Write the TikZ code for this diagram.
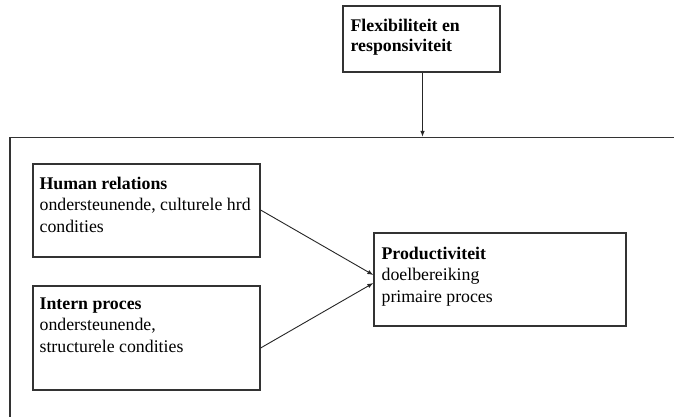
\documentclass[tikz,border=0pt]{standalone}
\usepackage{fontspec}
\setmainfont{Liberation Serif}
\usetikzlibrary{arrows.meta}
\tikzset{
  box/.style={draw=black!80, line width=1.2pt, rectangle, inner sep=0pt},
  txt/.style={anchor=base west, inner sep=0pt, font=\fontsize{17.8}{21.5}\selectfont},
  arr/.style={draw=black!85, line width=0.9pt, -{Latex[length=6pt,width=4.5pt]}}
}
\newcommand{\boxtext}[2]{\parbox[t]{#1}{\raggedright #2}}
\begin{document}
\begin{tikzpicture}[x=1pt,y=-1pt]
\useasboundingbox (0,0) rectangle (674,416);
\clip (0,0) rectangle (674,416);
\fill[white] (0,0) rectangle (674,416);
% boxes
\node[box, minimum width=157pt, minimum height=66pt] (flex) at (421.5,39) {};
\node[box, minimum width=690pt, minimum height=302.5pt] (big) at (355,288.75) {};
\node[box, minimum width=227pt, minimum height=93pt] (hr) at (146.5,210.5) {};
\node[box, minimum width=227pt, minimum height=104pt] (ip) at (146.5,338) {};
\node[box, minimum width=252pt, minimum height=93pt] (prod) at (500,279.5) {};
% texts
\node[txt, font=\fontsize{17.8}{20}\selectfont] (flext) at ([xshift=8pt,yshift=-26.3pt]flex.north west)
  {\boxtext{150pt}{\textbf{Flexibiliteit en}\\\textbf{responsiviteit}}};
\node[txt] (hrt) at ([xshift=7pt,yshift=-26pt]hr.north west)
  {\boxtext{225pt}{\textbf{Human relations}\\ondersteunende, culturele hrd\\condities}};
\node[txt] (ipt) at ([xshift=7pt,yshift=-24pt]ip.north west)
  {\boxtext{225pt}{\textbf{Intern proces}\\ondersteunende,\\structurele condities}};
\node[txt] (prodt) at ([xshift=8pt,yshift=-27pt]prod.north west)
  {\boxtext{240pt}{\textbf{Productiviteit}\\doelbereiking\\primaire proces}};
% connectors
\draw[arr] ([xshift=1pt]flex.south) -- ([xshift=1pt]flex.south |- big.north);
\draw[arr] ([yshift=0.5pt]hr.east) -- ([yshift=4.5pt]prod.west);
\draw[arr] ([yshift=-10pt]ip.east) -- ([yshift=-3.5pt]prod.west);
\end{tikzpicture}
\end{document}
